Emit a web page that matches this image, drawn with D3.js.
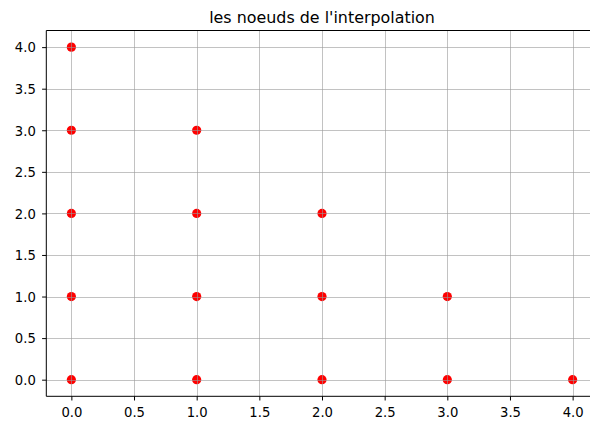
<!DOCTYPE html>
<html>
<head>
<meta charset="utf-8">
<script src="https://cdn.jsdelivr.net/npm/d3@7"></script>
<style>
  html, body { margin: 0; padding: 0; background: #fff; }
  svg { display: block; }
  text { font-family: "DejaVu Sans", sans-serif; fill: #000; }
</style>
</head>
<body>
<svg id="chart" width="590" height="423"></svg>
<script>
// Interpolation nodes (x_i, y_j) with i + j <= 4
const nodeX = [0, 0, 0, 0, 0, 1, 1, 1, 1, 2, 2, 2, 3, 3, 4];
const nodeY = [0, 1, 2, 3, 4, 0, 1, 2, 3, 0, 1, 2, 0, 1, 0];
const xTicks = [0, 0.5, 1, 1.5, 2, 2.5, 3, 3.5, 4];
const yTicks = [0, 0.5, 1, 1.5, 2, 2.5, 3, 3.5, 4];
const chartTitle = "les noeuds de l'interpolation";

const svg = d3.select("#chart");
const plotLeft = 46.3, plotRight = 597.7, plotTop = 30.5, plotBottom = 396.3;

const x = d3.scaleLinear().domain([-0.2, 4.2]).range([plotLeft, plotRight]);
const y = d3.scaleLinear().domain([-0.2, 4.2]).range([plotBottom, plotTop]);

const points = nodeX.map((v, i) => ({ x: v, y: nodeY[i] }));

// markers (drawn below the grid)
svg.append("g")
  .selectAll("circle")
  .data(points)
  .join("circle")
  .attr("cx", d => x(d.x))
  .attr("cy", d => y(d.y))
  .attr("r", 4.6)
  .attr("fill", "#ff0000");

// grid
const grid = svg.append("g").attr("stroke", "#9a9a9a").attr("stroke-width", 1).attr("stroke-opacity", 0.6);
grid.selectAll("line.vx")
  .data(xTicks)
  .join("line")
  .attr("class", "vx")
  .attr("x1", d => Math.round(x(d)) + 0.5)
  .attr("x2", d => Math.round(x(d)) + 0.5)
  .attr("y1", plotTop)
  .attr("y2", plotBottom);
grid.selectAll("line.hy")
  .data(yTicks)
  .join("line")
  .attr("class", "hy")
  .attr("y1", d => Math.round(y(d)) + 0.5)
  .attr("y2", d => Math.round(y(d)) + 0.5)
  .attr("x1", plotLeft)
  .attr("x2", plotRight);

// axes
const fmt = d3.format(".1f");
const xAxis = svg.append("g")
  .attr("transform", `translate(0,${plotBottom})`)
  .call(d3.axisBottom(x).tickValues(xTicks).tickFormat(fmt).tickSizeOuter(0).tickSize(4.2).tickPadding(4.2));
const yAxis = svg.append("g")
  .attr("transform", `translate(${plotLeft},0)`)
  .call(d3.axisLeft(y).tickValues(yTicks).tickFormat(fmt).tickSizeOuter(0).tickSize(4.2).tickPadding(4.2));

[xAxis, yAxis].forEach(g => {
  g.selectAll("text").attr("font-family", "DejaVu Sans, sans-serif").attr("font-size", 13.2).attr("fill", "#000");
  g.selectAll(".tick line").attr("stroke", "#000").attr("stroke-width", 1);
  g.select(".domain").remove();
});
xAxis.selectAll(".tick text").attr("dy", null).attr("y", 21);
yAxis.selectAll(".tick text").attr("dy", "0.36em").attr("x", -10.5);

// spines
const sp = svg.append("g").attr("stroke", "#000").attr("stroke-width", 1).attr("fill", "none");
sp.append("line").attr("x1", plotLeft).attr("x2", plotLeft).attr("y1", plotTop).attr("y2", plotBottom);
sp.append("line").attr("x1", plotLeft).attr("x2", plotRight).attr("y1", plotBottom).attr("y2", plotBottom);
sp.append("line").attr("x1", plotLeft).attr("x2", plotRight).attr("y1", plotTop).attr("y2", plotTop);
sp.append("line").attr("x1", plotRight).attr("x2", plotRight).attr("y1", plotTop).attr("y2", plotBottom);

// title
svg.append("text")
  .attr("x", (plotLeft + plotRight) / 2)
  .attr("y", 22.7)
  .attr("text-anchor", "middle")
  .attr("font-size", 15.9)
  .text(chartTitle);
</script>
</body>
</html>
